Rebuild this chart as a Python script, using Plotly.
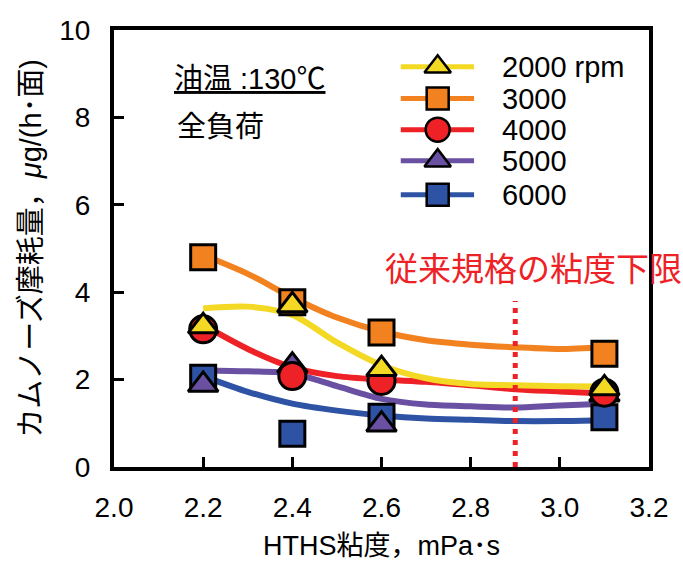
import plotly.graph_objects as go

# ---- data ----
hths = [2.2, 2.4, 2.6, 3.1]
rpm_labels = ["2000 rpm", "3000", "4000", "5000", "6000"]
wear_2000 = [3.22, 3.70, 2.24, 1.80]
wear_3000 = [4.80, 3.77, 3.08, 2.59]
wear_4000 = [3.15, 2.08, 1.97, 1.70]
wear_5000 = [1.88, 2.32, 0.97, 1.66]
wear_6000 = [2.04, 0.76, 1.15, 1.14]

fit_x = [2.2, 2.3, 2.4, 2.5, 2.6, 2.7, 2.8, 2.9, 3.0, 3.1]
fit_2000 = [3.63, 3.67, 3.48, 2.85, 2.33, 2.03, 1.90, 1.87, 1.85, 1.84]
fit_3000 = [4.85, 4.42, 3.88, 3.42, 3.10, 2.90, 2.80, 2.74, 2.70, 2.74]
fit_4000 = [3.25, 2.70, 2.28, 2.08, 2.00, 1.95, 1.87, 1.78, 1.73, 1.68]
fit_5000 = [2.21, 2.19, 2.14, 1.85, 1.56, 1.43, 1.39, 1.36, 1.41, 1.45]
fit_6000 = [2.08, 1.72, 1.45, 1.29, 1.18, 1.11, 1.08, 1.05, 1.05, 1.07]

limit_x = [2.9, 2.9]
limit_y = [0, 3.8]
limit_label = "従来規格の粘度下限"
cond_label = "<u>油温 :130℃</u>"
load_label = "全負荷"
x_title = "HTHS粘度，mPa･s"
y_title = "カムノーズ摩耗量，<i>μ</i>g/(h･面)"
x_ticks = [2.0, 2.2, 2.4, 2.6, 2.8, 3.0, 3.2]
y_ticks = [0, 2, 4, 6, 8, 10]

colors = ["#F3D824", "#F28220", "#EE2226", "#6A50A2", "#2E53A4"]
symbols = ["triangle-up", "square", "circle", "triangle-up", "square"]
msizes = [26, 25, 27, 26, 25]
wears = [wear_2000, wear_3000, wear_4000, wear_5000, wear_6000]
fits = [fit_2000, fit_3000, fit_4000, fit_5000, fit_6000]

FONT = "Liberation Sans, Arial, Noto Sans CJK JP"
fig = go.Figure()

# fitted curves
for i in [4, 3, 2, 0, 1]:
    fig.add_trace(go.Scatter(x=fit_x, y=fits[i], mode="lines",
                             line=dict(color=colors[i], width=6, shape="spline", smoothing=0.8),
                             showlegend=False, hoverinfo="skip"))

# limit line
fig.add_trace(go.Scatter(x=limit_x, y=limit_y, mode="lines",
                         line=dict(color="#EE2226", width=5, dash="5px,6px"),
                         showlegend=False))

# markers
for i in [4, 3, 1, 2, 0]:
    fig.add_trace(go.Scatter(x=hths, y=wears[i], mode="markers",
                             marker=dict(symbol=symbols[i], size=msizes[i], color=colors[i],
                                         line=dict(color="black", width=3)),
                             showlegend=False))

# manual legend on overlay axes (0..1 across plot area)
leg_y = [0.916, 0.843, 0.772, 0.701, 0.623]
for i in range(5):
    fig.add_trace(go.Scatter(x=[0.536, 0.673], y=[leg_y[i], leg_y[i]], mode="lines",
                             line=dict(color=colors[i], width=5),
                             xaxis="x2", yaxis="y2", showlegend=False))
    fig.add_trace(go.Scatter(x=[0.605], y=[leg_y[i]], mode="markers",
                             marker=dict(symbol=symbols[i], size=msizes[i] - 3, color=colors[i],
                                         line=dict(color="black", width=2.5)),
                             xaxis="x2", yaxis="y2", showlegend=False))
    fig.add_annotation(x=0.7215, y=leg_y[i], xref="paper", yref="paper",
                       text=rpm_labels[i], showarrow=False, xanchor="left", yanchor="middle",
                       font=dict(family=FONT, size=29, color="black"))

fig.add_annotation(x=0.108, y=0.887, xref="paper", yref="paper", text=cond_label,
                   showarrow=False, xanchor="left", yanchor="middle",
                   font=dict(family=FONT, size=29, color="black"))
fig.add_annotation(x=0.114, y=0.778, xref="paper", yref="paper", text=load_label,
                   showarrow=False, xanchor="left", yanchor="middle",
                   font=dict(family=FONT, size=29, color="black"))
fig.add_annotation(x=0.503, y=0.457, xref="paper", yref="paper", text=limit_label,
                   showarrow=False, xanchor="left", yanchor="middle",
                   font=dict(family="Noto Sans CJK JP", size=33, color="#EE2226"))

fig.update_layout(
    width=683, height=569,
    margin=dict(l=114, r=34, t=30, b=97),
    paper_bgcolor="white", plot_bgcolor="white",
    showlegend=False,
    font=dict(family=FONT, color="black"),
    xaxis=dict(range=[2.0, 3.2], tickvals=x_ticks, tickformat=".1f",
               ticks="inside", ticklen=10, tickwidth=3, tickcolor="black",
               showline=True, linewidth=4, linecolor="black", mirror=True,
               showgrid=False, zeroline=False,
               tickfont=dict(family=FONT, size=28), ticklabelstandoff=12,
               title=dict(text=x_title, font=dict(family=FONT, size=27), standoff=16)),
    yaxis=dict(range=[0, 10], tickvals=y_ticks,
               ticks="inside", ticklen=10, tickwidth=3, tickcolor="black",
               showline=True, linewidth=4, linecolor="black", mirror=True,
               showgrid=False, zeroline=False,
               tickfont=dict(family=FONT, size=28), ticklabelstandoff=14,
               title=dict(text=y_title, font=dict(family=FONT, size=29), standoff=10)),
    xaxis2=dict(range=[0, 1], overlaying="x", visible=False, fixedrange=True),
    yaxis2=dict(range=[0, 1], overlaying="y", visible=False, fixedrange=True),
)

fig.write_html("out.html")
